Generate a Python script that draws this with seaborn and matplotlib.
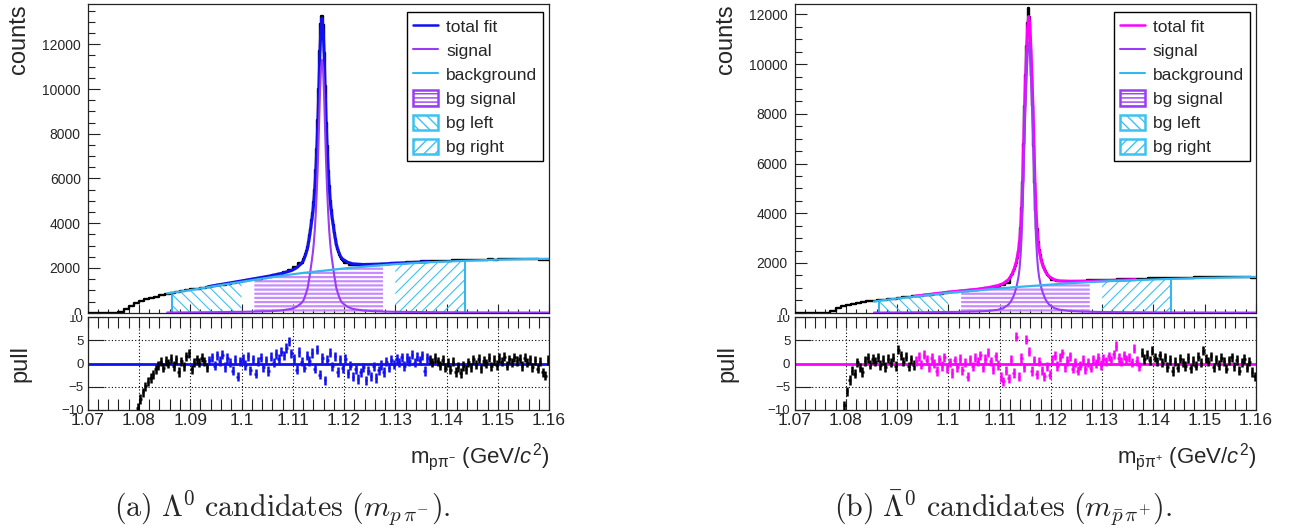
import numpy as np
import matplotlib
matplotlib.use("Agg")
import matplotlib.pyplot as plt
import seaborn as sns
from matplotlib.lines import Line2D
from matplotlib.patches import Patch
from matplotlib.transforms import Bbox, TransformedBbox
from matplotlib.ticker import MultipleLocator

# ---------------------------------------------------------------- data
# fit-curve sampling points (GeV/c^2)
fit_x = [1.0855, 1.0865, 1.0900, 1.0935, 1.0950, 1.1000, 1.1025, 1.1057, 1.1077, 1.1097,
         1.1107, 1.1117, 1.1121, 1.1125, 1.1129, 1.1133, 1.1137, 1.1139, 1.1141, 1.1143,
         1.1145, 1.1147, 1.1149, 1.1151, 1.1153, 1.1155, 1.1157, 1.1159, 1.1161, 1.1163,
         1.1165, 1.1167, 1.1169, 1.1171, 1.1173, 1.1175, 1.1177, 1.1181, 1.1185, 1.1189,
         1.1193, 1.1197, 1.1207, 1.1217, 1.1237, 1.1257, 1.1276, 1.1300, 1.1365, 1.1435,
         1.1500, 1.1550, 1.1600]

# (a) Lambda
sig_a = [10, 10, 14, 22, 25, 40, 50, 70, 100, 170, 260, 430, 560, 800, 1100, 1650, 2300, 2650,
         3100, 3700, 4500, 5500, 6700, 8200, 9800, 10900, 11300, 10900, 9800, 8200, 6700, 5500,
         4500, 3700, 3100, 2650, 2300, 1650, 1100, 800, 560, 430, 260, 170, 100, 70, 52, 40, 25,
         15, 10, 8, 6]
bg_a = [860, 894, 1010, 1140, 1200, 1380, 1470, 1580, 1650, 1710, 1740, 1770, 1780, 1790, 1800,
        1810, 1820, 1825, 1830, 1835, 1840, 1845, 1850, 1855, 1860, 1865, 1870, 1875, 1880, 1885,
        1890, 1895, 1900, 1905, 1910, 1915, 1920, 1930, 1940, 1950, 1960, 1970, 1995, 2015, 2055,
        2095, 2125, 2170, 2255, 2320, 2370, 2395, 2410]
# (b) anti-Lambda
sig_b = [6, 6, 9, 15, 18, 28, 35, 50, 70, 120, 180, 320, 420, 560, 760, 1030, 1450, 1780, 2300,
         3050, 4200, 5700, 7300, 8500, 9600, 10500, 10850, 10500, 9600, 8500, 7300, 5700, 4200,
         3050, 2300, 1780, 1450, 1030, 760, 560, 420, 320, 180, 120, 70, 50, 38, 28, 17, 10, 7,
         5, 4]
bg_b = [450, 483, 570, 650, 685, 800, 845, 895, 935, 975, 990, 1005, 1012, 1019, 1025, 1031, 1037,
        1040, 1043, 1046, 1049, 1052, 1055, 1058, 1061, 1064, 1067, 1070, 1073, 1076, 1079, 1082,
        1085, 1088, 1091, 1094, 1097, 1103, 1109, 1115, 1121, 1127, 1142, 1157, 1185, 1210, 1232,
        1258, 1312, 1360, 1398, 1420, 1440]

# histogram counts: 1.070-1.112 (1 MeV bins), 1.112-1.120 (0.2 MeV bins), 1.120-1.160 (1 MeV bins)
counts_a = [0, 0, 0, 0, 0, 2, 20, 150, 310, 440, 530, 600, 660, 720, 780, 840, 890, 935, 965, 1000,
            1040, 1075, 1110, 1150, 1185, 1225, 1260, 1300, 1335, 1370, 1410, 1445, 1485, 1525,
            1560, 1610, 1670, 1740, 1820, 1920, 2050, 2230,
            2400, 2500, 2620, 2760, 2930, 3150, 3480, 3750, 4150, 4450, 4960, 5500, 6380, 7300,
            8620, 10000, 11700, 12900, 13250, 12850, 11600, 10150, 8500, 7450, 6350, 5650, 4980,
            4600, 4150, 3900, 3560, 3280, 3020, 2860, 2710, 2600, 2480, 2410, 2340, 2300,
            2230, 2150, 2120, 2110, 2120, 2130, 2140, 2160, 2180, 2200, 2220, 2235, 2250, 2265,
            2280, 2290, 2300, 2310, 2315, 2320, 2330, 2335, 2345, 2340, 2350, 2360, 2365, 2370,
            2380, 2375, 2385, 2390, 2395, 2400, 2390, 2405, 2400, 2395, 2370, 2360]
counts_b = [0, 0, 0, 0, 0, 0, 5, 80, 180, 260, 320, 370, 400, 430, 460, 475, 495, 520, 545, 565,
            590, 615, 635, 660, 680, 705, 730, 750, 770, 790, 815, 835, 855, 880, 905, 925, 950,
            980, 1010, 1050, 1100, 1180,
            1445, 1505, 1565, 1695, 1765, 1875, 1995, 2215, 2475, 2845, 3395, 4225, 5275, 6775,
            8325, 9575, 10725, 11675, 12250, 11900, 10625, 9525, 8325, 6725, 5225, 4095, 3355,
            2825, 2535, 2305, 2125, 1975, 1855, 1755, 1665, 1595, 1535, 1485, 1445, 1415,
            1330, 1290, 1280, 1280, 1285, 1290, 1295, 1300, 1305, 1315, 1320, 1330, 1335, 1345,
            1350, 1355, 1360, 1370, 1375, 1390, 1395, 1390, 1400, 1405, 1400, 1410, 1415, 1410,
            1425, 1420, 1430, 1425, 1435, 1440, 1435, 1440, 1430, 1425, 1420, 1400]

# pulls, 0.5 MeV bins from 1.0795 to 1.1600
pull_a = [-9.5, -7.6, -6.2, -4.9, -3.9, -3.1, -2.3, -1.2, -0.4, 0.4,
          -0.9, 0.6, 0.1, 1.1, -0.5, 0.9, -1.8, 0.5, -0.6, 1.6,
          2.2, -1.2, 0.3, 0.9, 0.2, 1.3, 0.5, -0.8, 0.7, 1.4,
          -0.4, 1.8, 0.6, 1.9, -0.7, 1.2, 0.3, -1.5, 0.8, -2.8,
          0.5, 1.1, -0.3, 1.6, -1.4, 0.9, -2.2, 0.4, 1.3, -0.8,
          0.7, -1.6, 1.5, 0.2, 2.1, 1.0, 2.6, 1.8, 3.4, 4.8,
          2.2, 1.0, -1.3, 2.5, 0.4, -0.9, 1.7, 0.6, 2.3, -1.1,
          3.0, -2.4, 1.2, -3.6, 0.8, 2.4, -0.6, 1.6, -1.8, 0.9,
          -1.0, 1.1, -2.1, -0.4, -2.8, -1.2, -3.3, -1.9, -0.8, -3.6,
          -1.5, -2.7, -0.6, -3.1, -1.4, -0.3, -1.8, 0.4, -0.9, 0.8,
          -0.2, 1.0, 0.3, 1.4, -0.5, 1.2, 0.6, 1.9, 0.2, 1.5,
          0.7, 1.8, -1.6, 1.2, 0.9, 0.3, 1.2, 0.5, -0.4, 0.8,
          -0.9, 0.2, -1.3, 0.4, -1.8, -0.7, -2.0, -0.5, -1.2, 0.3,
          -0.8, 0.9, -0.2, 1.1, -1.0, 0.6, 0.1, 1.3, -0.6, 0.8,
          -0.3, 1.2, 0.4, 1.5, -0.4, 0.9, 0.3, 1.4, 0.6, 1.1,
          -0.5, 1.3, 0.2, 0.9, -0.8, 0.7, -1.1, 0.4, -1.9, -2.6,
          0.8]
pull_b = [-9.0, -6.0, -3.5, -1.5, -2.2, 0.3, -0.9, -1.8, 0.6, 1.2,
          -0.2, 1.0, 0.4, 1.4, -0.3, 0.8, -0.7, 1.1, 0.2, 1.3,
          -0.5, 3.0, 1.8, 0.4, 1.5, -0.6, 0.9, -0.3, 0.6, 1.5,
          -0.2, 1.9, 0.8, -0.9, 1.2, 0.1, -1.6, 0.9, -0.5, 1.4,
          -1.0, 0.3, -2.0, 0.7, -0.8, 1.1, -1.4, 0.2, -2.8, 0.9,
          -0.6, 1.3, 0.4, 1.8, -0.9, 1.0, 2.4, 0.5, -1.2, 1.6,
          -0.3, -2.9, -3.8, -1.5, -3.2, 0.8, -2.0, 5.8, -2.8, 1.2,
          -0.8, 5.2, 2.6, -1.6, 0.7, -2.3, 0.4, -1.4, -2.7, -0.6,
          -2.4, 0.9, 1.7, -0.5, 1.3, 2.2, -0.8, 0.6, 1.6, -1.1,
          0.3, -1.5, -0.4, 0.8, -1.2, 0.2, -0.9, 0.9, 0.1, 1.2,
          -0.3, 1.1, 0.5, 1.6, 0.7, 2.0, 3.8, 1.2, 0.4, 1.8,
          0.9, 1.4, 0.3, 3.2, 0.6, -0.6, 2.4, 1.0, 1.9, 0.7,
          2.8, 1.3, 0.5, 1.8, 0.2, 1.4, -0.7, 0.8, -1.6, 0.4,
          -0.9, 1.1, 0.3, -0.5, 1.2, -1.0, 0.6, -0.4, 1.5, 0.2,
          2.8, 1.1, 0.4, 1.6, -0.8, 0.9, -0.3, 1.3, 0.5, -1.1,
          0.7, 1.4, -0.6, 0.8, -1.5, 0.3, 1.0, -0.9, 0.4, -1.8,
          -2.7]

# ranges
fit_range_a = (1.0935, 1.1365)
fit_range_b = (1.0935, 1.1375)
bg_left_range = (1.0865, 1.1000)
bg_signal_range = (1.1025, 1.1276)
bg_right_range = (1.1300, 1.1435)

x_ticks = [1.07, 1.08, 1.09, 1.10, 1.11, 1.12, 1.13, 1.14, 1.15, 1.16]
x_tick_labels = ["1.07", "1.08", "1.09", "1.1", "1.11", "1.12", "1.13", "1.14", "1.15", "1.16"]
pull_ticks = [-10, -5, 0, 5, 10]
pull_tick_labels = ["\u221210", "\u22125", "0", "5", "10"]
legend_labels = ["total fit", "signal", "background", "bg signal", "bg left", "bg right"]

# ---------------------------------------------------------------- style
sns.set_theme(style="ticks")
plt.rcParams["font.family"] = ["Liberation Sans", "DejaVu Sans"]
plt.rcParams["mathtext.fontset"] = "custom"
plt.rcParams["mathtext.rm"] = "Liberation Sans"
plt.rcParams["mathtext.it"] = "Liberation Sans:italic"
plt.rcParams["mathtext.sf"] = "Liberation Sans"
plt.rcParams["mathtext.bf"] = "Liberation Sans:bold"
plt.rcParams["axes.unicode_minus"] = True

SIG_C = "#9a3cf5"
BG_C = "#35b6f0"
HATCH_P = "#c68cff"
HATCH_C = "#3cc2f0"
FRAME_C = "#222222"

W, H = 1291, 528
fig = plt.figure(figsize=(W / 100, H / 100), dpi=100)


def fx(px):
    return px / W


def fy(py):
    return 1 - py / H


def panel(x0, counts, sig, bg, pulls, tot_c, fit_rng, ymax, ymax_tick, xlabel, caption, cap_x):
    axw = 461.4
    ax = fig.add_axes([fx(x0), fy(312.7), axw / W, 308.7 / H])
    axp = fig.add_axes([fx(x0), fy(410), axw / W, 92.7 / H])

    fx_arr = np.array(fit_x)
    sig_arr = np.array(sig, dtype=float)
    bg_arr = np.array(bg, dtype=float)
    tot_arr = sig_arr + bg_arr

    # hatched side-band / signal regions
    with plt.rc_context({"hatch.linewidth": 1.6}):
        m = (fx_arr >= bg_signal_range[0]) & (fx_arr <= bg_signal_range[1])
        ax.fill_between(fx_arr[m], 0, bg_arr[m], facecolor="none", edgecolor=HATCH_P,
                        hatch="----", linewidth=0, zorder=1)
    with plt.rc_context({"hatch.linewidth": 0.8}):
        m = (fx_arr >= bg_left_range[0]) & (fx_arr <= bg_left_range[1])
        ax.fill_between(fx_arr[m], 0, bg_arr[m], facecolor="none", edgecolor=HATCH_C,
                        hatch="\\\\\\", linewidth=0, zorder=1)
        ax.plot([fx_arr[m][0]] * 2, [0, bg_arr[m][0]], color=BG_C, lw=1.5, zorder=2)
        m = (fx_arr >= bg_right_range[0]) & (fx_arr <= bg_right_range[1])
        ax.fill_between(fx_arr[m], 0, bg_arr[m], facecolor="none", edgecolor=HATCH_C,
                        hatch="///", linewidth=0, zorder=1)
        ax.plot([fx_arr[m][-1]] * 2, [0, bg_arr[m][-1]], color=BG_C, lw=1.5, zorder=2)

    # data histogram (step outline)
    edges = np.concatenate([np.linspace(1.070, 1.112, 43),
                            np.linspace(1.112, 1.120, 41)[1:],
                            np.linspace(1.120, 1.160, 41)[1:]])
    step_y = list(counts) + [counts[-1]]
    sns.lineplot(x=edges, y=step_y, drawstyle="steps-post", color="black", lw=1.7,
                 ax=ax, zorder=3, estimator=None)

    # fit curves
    m = (fx_arr >= fit_rng[0]) & (fx_arr <= 1.1365)
    sns.lineplot(x=fx_arr[m], y=tot_arr[m], color=tot_c, lw=2.2, ax=ax, zorder=4,
                 estimator=None)
    sns.lineplot(x=fx_arr, y=sig_arr, color=SIG_C, lw=1.5, ax=ax, zorder=5, estimator=None)
    sns.lineplot(x=fx_arr, y=bg_arr, color=BG_C, lw=1.6, ax=ax, zorder=5, estimator=None)

    ax.set_xlim(1.07, 1.16)
    ax.set_ylim(0, ymax)
    ax.set_xlabel("")
    ax.set_ylabel("")
    ax.set_xticks(x_ticks)
    ax.xaxis.set_minor_locator(MultipleLocator(0.002))
    ax.tick_params(axis="x", which="both", direction="in", bottom=True, top=False,
                   labelbottom=False, width=0.8, color=FRAME_C)
    ax.tick_params(axis="x", which="major", length=6.5)
    ax.tick_params(axis="x", which="minor", length=3.2)
    yt = list(range(0, ymax_tick + 1, 2000))
    ax.set_yticks(yt, [str(v) for v in yt])
    ax.yaxis.set_minor_locator(MultipleLocator(500))
    ax.tick_params(axis="y", which="both", direction="in", left=True, right=False,
                   width=0.8, color=FRAME_C, labelsize=10, pad=5)
    ax.tick_params(axis="y", which="major", length=8.6)
    ax.tick_params(axis="y", which="minor", length=5)

    # legend
    handles = [Line2D([], [], color=tot_c, lw=1.8),
               Line2D([], [], color=SIG_C, lw=1.5),
               Line2D([], [], color=BG_C, lw=1.5),
               Patch(facecolor="white", edgecolor=SIG_C, hatch="----", lw=1.8),
               Patch(facecolor="white", edgecolor=HATCH_C, hatch="\\\\\\", lw=1.8),
               Patch(facecolor="white", edgecolor=HATCH_C, hatch="///", lw=1.8)]
    leg = ax.legend(handles, legend_labels, loc="upper right", bbox_to_anchor=(0.9876, 0.975),
                    borderaxespad=0, frameon=True, fancybox=False, edgecolor="black",
                    fontsize=12.5, handlelength=1.45, handleheight=1.0, labelspacing=0.43,
                    handletextpad=0.45, borderpad=0.35, framealpha=1)
    leg.get_frame().set_linewidth(1.0)

    # pulls
    pc = 1.07975 + 0.0005 * np.arange(len(pulls))
    pv = np.array(pulls)
    inside = (pc > fit_rng[0]) & (pc < fit_rng[1])
    axp.axhline(0, color=tot_c, lw=2.0, zorder=2)
    axp.errorbar(pc[~inside], pv[~inside], yerr=1.0, xerr=0.00025, fmt="none",
                 ecolor="black", elinewidth=1.8, zorder=3)
    axp.errorbar(pc[inside], pv[inside], yerr=1.0, xerr=0.00025, fmt="none",
                 ecolor=tot_c, elinewidth=1.8, zorder=3)
    axp.set_xlim(1.07, 1.16)
    axp.set_ylim(-10, 10)
    axp.set_xticks(x_ticks, x_tick_labels)
    axp.xaxis.set_minor_locator(MultipleLocator(0.002))
    axp.set_yticks(pull_ticks, pull_tick_labels)
    axp.tick_params(axis="x", which="both", direction="in", bottom=True, top=True,
                    length=8, width=0.8, color=FRAME_C, labelsize=12.5, pad=2)
    axp.tick_params(axis="y", which="major", direction="in", left=True, right=False,
                    length=11.5, width=0.8, color=FRAME_C, labelsize=9.5, pad=3)
    axp.grid(True, which="major", axis="both", linestyle=(0, (1, 2)), color="black", lw=0.8)

    for a in (ax, axp):
        for s in a.spines.values():
            s.set_color(FRAME_C)
            s.set_linewidth(0.9)
            s.set_visible(True)

    # ROOT-style pad clipping of the overlapping "0"/"10" labels
    cut = fy(315.0)
    top_clip = TransformedBbox(Bbox.from_extents(0, cut, 1, 1), fig.transFigure)
    bot_clip = TransformedBbox(Bbox.from_extents(0, 0, 1, cut), fig.transFigure)
    for t in ax.yaxis.get_major_ticks():
        t.label1.set_clip_box(top_clip)
        t.label1.set_clip_on(True)
    for t in axp.yaxis.get_major_ticks():
        t.label1.set_clip_box(bot_clip)
        t.label1.set_clip_on(True)

    # axis titles and caption
    fig.text(fx(x0 - 68.7), fy(4), "counts", rotation=90, ha="center", va="top", fontsize=17)
    fig.text(fx(x0 - 67), fy(363.5), "pull", rotation=90, ha="center", va="center", fontsize=17)
    fig.text(fx(x0 + axw), fy(463), xlabel, ha="right", va="baseline", fontsize=16)
    fig.text(fx(cap_x), fy(508), caption, ha="center", va="center", fontsize=21.6,
             math_fontfamily="cm")


panel(87.7, counts_a, sig_a, bg_a, pull_a, "#1010f0", fit_range_a, 13800, 12000,
      r"m$_{\mathrm{p\pi}^{\mathrm{-}}}$ (GeV/$\mathit{c}^{\mathrm{2}}$)",
      r"$\mathrm{(a)}\ \Lambda^{0}\ \mathrm{candidates}\ (m_{p\,\pi^{-}}).$", 282.5)
panel(794.5, counts_b, sig_b, bg_b, pull_b, "#ff00ff", fit_range_b, 12420, 12000,
      r"m$_{\bar{\mathrm{p}}\mathrm{\pi}^{\mathrm{+}}}$ (GeV/$\mathit{c}^{\mathrm{2}}$)",
      r"$\mathrm{(b)}\ \bar{\Lambda}^{0}\ \mathrm{candidates}\ (m_{\bar{p}\,\pi^{+}}).$", 1003)

fig.savefig("out.png", dpi=100)
